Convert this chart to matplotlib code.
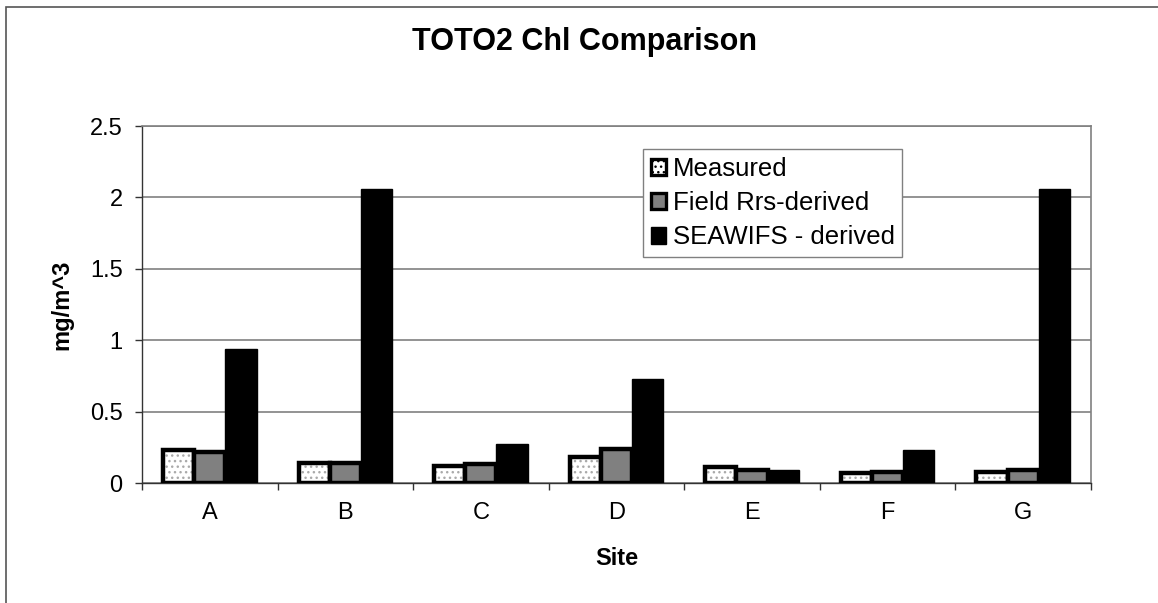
import numpy as np
import matplotlib
matplotlib.use("Agg")
import matplotlib.pyplot as plt
from matplotlib.patches import Patch, Rectangle

plt.rcParams['font.family'] = ['Liberation Sans', 'DejaVu Sans']
plt.rcParams['hatch.linewidth'] = 1.0

# data
sites = ['A', 'B', 'C', 'D', 'E', 'F', 'G']
measured = [0.23, 0.14, 0.12, 0.18, 0.11, 0.07, 0.08]
field_rrs = [0.22, 0.14, 0.13, 0.24, 0.09, 0.08, 0.09]
seawifs = [0.94, 2.06, 0.27, 0.73, 0.09, 0.23, 2.06]
series_names = ['Measured', 'Field Rrs-derived', 'SEAWIFS - derived']
yticks = [0, 0.5, 1, 1.5, 2, 2.5]
ytick_labels = ['0', '0.5', '1', '1.5', '2', '2.5']

fig = plt.figure(figsize=(11.58, 6.03), dpi=100)
ax = fig.add_axes([0.1226, 0.199, 0.8195, 0.592])

# outer chart frame (only left/top edges visible in the picture)
fig.add_artist(Rectangle((6 / 1158, -0.05), 1.2, 1 - 7 / 603 + 0.05,
                         transform=fig.transFigure, fill=False,
                         edgecolor='#555555', linewidth=1.2))

x = np.arange(len(sites))
w = 0.23
offs = [-w, 0, w]

# measured: white with grey stipple, black edge
ax.bar(x + offs[0], measured, w, color='white', edgecolor='#aaaaaa',
       hatch='...', linewidth=0, zorder=3)
ax.bar(x + offs[0], measured, w, fill=False, edgecolor='black',
       linewidth=3.2, zorder=4)
# field Rrs: grey
ax.bar(x + offs[1], field_rrs, w, color='#808080', edgecolor='black',
       linewidth=3.2, zorder=4)
# seawifs: black
ax.bar(x + offs[2], seawifs, w, color='black', edgecolor='black',
       linewidth=1.0, zorder=4)

ax.set_xlim(-0.5, len(sites) - 0.5)
ax.set_ylim(0, 2.5)
ax.set_yticks(yticks)
ax.set_yticklabels(ytick_labels, fontsize=17)
ax.set_xticks(x)
ax.set_xticklabels(sites, fontsize=17)
ax.tick_params(axis='x', length=0, pad=14)
ax.set_xticks(np.arange(len(sites) + 1) - 0.5, minor=True)
ax.tick_params(axis='x', which='minor', length=5, width=1, color='#333333',
               direction='out')
ax.tick_params(axis='y', length=5, width=1, color='#333333', pad=9)
ax.yaxis.grid(True, color='#808080', linewidth=1.2, zorder=0)
ax.set_axisbelow(True)

for s in ['top', 'right']:
    ax.spines[s].set_color('#808080')
    ax.spines[s].set_linewidth(1.2)
for s in ['left', 'bottom']:
    ax.spines[s].set_color('#333333')
    ax.spines[s].set_linewidth(1.0)

ax.set_ylabel('mg/m^3', fontsize=17, fontweight='bold', labelpad=12)
ax.set_xlabel('Site', fontsize=17, fontweight='bold', labelpad=16)
fig.text(0.505, 0.93, 'TOTO2 Chl Comparison', ha='center', va='center',
         fontsize=22, fontweight='bold')

handles = [Patch(facecolor='white', edgecolor='black', hatch='...', linewidth=2.4),
           Patch(facecolor='#808080', edgecolor='black', linewidth=2.4),
           Patch(facecolor='black', edgecolor='black', linewidth=1)]
leg = ax.legend(handles, series_names, loc='upper left',
                bbox_to_anchor=(0.528, 0.935), fontsize=18.5, frameon=True,
                fancybox=False, edgecolor='#808080', framealpha=1,
                handlelength=0.6, handleheight=0.6, handletextpad=0.25,
                labelspacing=0.4, borderpad=0.3, borderaxespad=0)
leg.get_frame().set_linewidth(1.0)

fig.savefig('out.png', dpi=100)
